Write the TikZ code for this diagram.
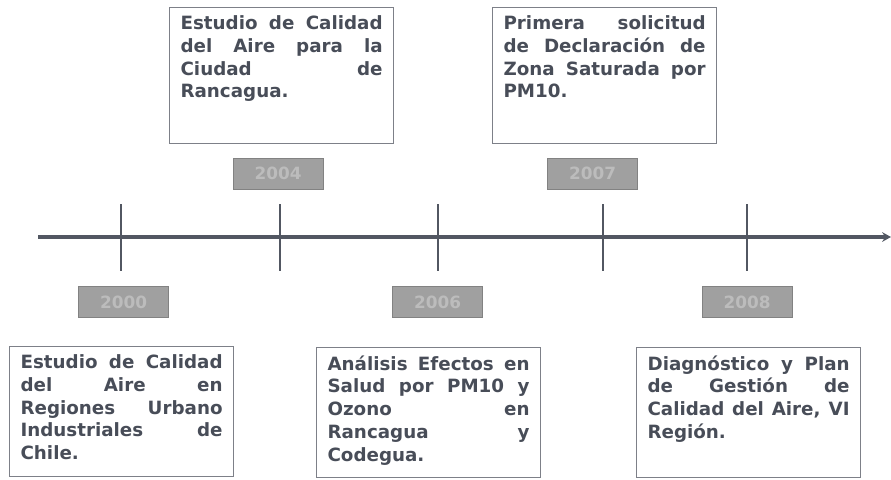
\documentclass[tikz,border=0pt]{standalone}
\usepackage{fontspec}
\setmainfont{DejaVu Sans}
\usetikzlibrary{arrows.meta,positioning}

\definecolor{inkgray}{RGB}{72,77,88}
\definecolor{axisgray}{RGB}{82,87,98}
\definecolor{framegray}{RGB}{125,128,136}
\definecolor{tagfill}{RGB}{160,160,160}
\definecolor{tagedge}{RGB}{130,130,130}
\definecolor{tagtext}{RGB}{188,188,188}

% one justified line of a box text
\newcommand{\jline}[1]{\makebox[\hsize][s]{#1}\par}

\begin{document}
\begin{tikzpicture}[x=0.025cm, y=-0.025cm,
    event/.style={draw=framegray, line width=0.8pt, inner xsep=0.275cm, inner ysep=0.2cm, anchor=north west, text=inkgray, font=\bfseries\fontsize{13}{16.2}\selectfont},
    yeartag/.style={draw=tagedge, fill=tagfill, line width=0.6pt, minimum width=2.25cm, minimum height=0.775cm, inner sep=0pt, text=tagtext, font=\bfseries\fontsize{12}{14}\selectfont},
    yeartick/.style={draw=axisgray, line width=1.5pt},
    axis/.style={draw=axisgray, line width=2.5pt, -{Stealth[length=2.2mm, width=2.4mm]}}]
    \useasboundingbox (0,0) rectangle (891,479);

    % time axis
    \coordinate (axstart) at (38,237);
    \coordinate (axend) at (891,237);
    \draw[axis] (axstart) -- (axend);
    \foreach \yr/\xx in {2000/121, 2004/280, 2006/438, 2007/603, 2008/747} {
        \coordinate (top\yr) at (\xx,204);
        \coordinate (bot\yr) at (\xx,271);
        \draw[yeartick] (top\yr) -- (bot\yr);
    }

    % year tags
    \node[yeartag] (y2000) at (123.5,302) {2000};
    \node[yeartag] (y2004) at (278,173.5) {2004};
    \node[yeartag] (y2006) at (437.5,302) {2006};
    \node[yeartag] (y2007) at (592.5,173.5) {2007};
    \node[yeartag] (y2008) at (747,302) {2008};

    % events above the axis
    \node[event] (e2004) at (169,7) {\parbox[t][3.0cm][t]{5.05cm}{%
        \jline{Estudio de Calidad}\jline{del Aire para la}\jline{Ciudad de}Rancagua.}};
    \node[event] (e2007) at (492,7) {\parbox[t][3.0cm][t]{5.05cm}{%
        \jline{Primera solicitud}\jline{de Declaración de}\jline{Zona Saturada por}PM10.}};

    % events below the axis
    \node[event] (e2000) at (9,346) {\parbox[t][2.85cm][t]{5.05cm}{%
        \jline{Estudio de Calidad}\jline{del Aire en}\jline{Regiones Urbano}\jline{Industriales de}Chile.}};
    \node[event] (e2006) at (316,347) {\parbox[t][2.85cm][t]{5.05cm}{%
        \jline{Análisis Efectos en}\jline{Salud por PM10 y}\jline{Ozono en}\jline{Rancagua y}Codegua.}};
    \node[event] (e2008) at (636,347) {\parbox[t][2.85cm][t]{5.05cm}{%
        \jline{Diagnóstico y Plan}\jline{de Gestión de}\jline{Calidad del Aire, VI}Región.}};
\end{tikzpicture}
\end{document}
